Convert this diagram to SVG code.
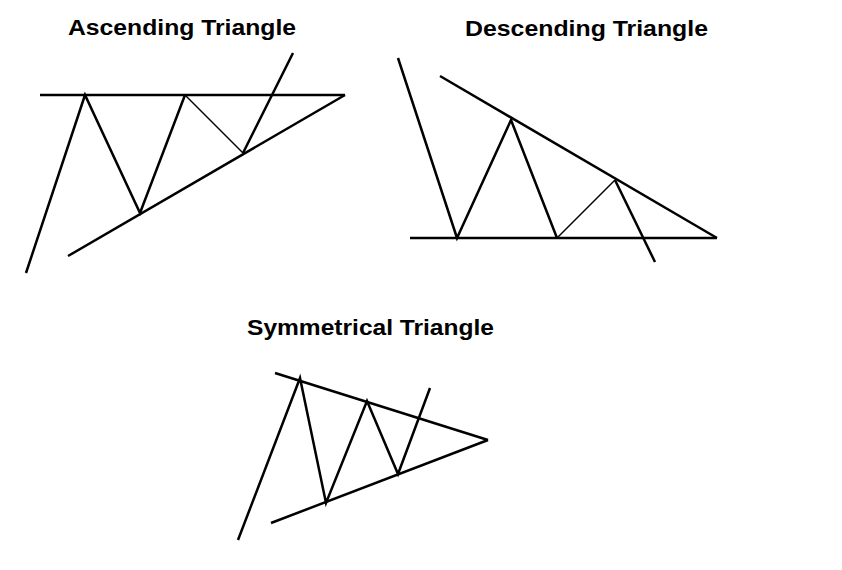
<svg xmlns="http://www.w3.org/2000/svg" width="842" height="570" viewBox="0 0 842 570">
<style>
.t{font-family:"Liberation Sans",Arial,sans-serif;font-size:22px;font-weight:bold;fill:#000}
.l{fill:none;stroke:#000;stroke-width:2.5;stroke-linejoin:miter}
.th{fill:none;stroke:#000;stroke-width:1.5}
</style>
<rect width="842" height="570" fill="#fff"/>
<g id="ascending">
<text class="t" x="68" y="35" textLength="228" lengthAdjust="spacingAndGlyphs">Ascending Triangle</text>
<line class="l" x1="40" y1="95" x2="345" y2="95"/>
<line class="l" x1="68" y1="256" x2="345" y2="95"/>
<polyline class="l" points="26,273 85,95 140,213 185,95"/>
<line class="th" x1="185" y1="95" x2="243" y2="153"/>
<line class="l" x1="243" y1="153" x2="293" y2="53"/>
</g>
<g id="descending">
<text class="t" x="465" y="36" textLength="243" lengthAdjust="spacingAndGlyphs">Descending Triangle</text>
<line class="l" x1="440" y1="76" x2="717" y2="238"/>
<line class="l" x1="410" y1="238" x2="717" y2="238"/>
<polyline class="l" points="398,58 457,238 511,120 557,238"/>
<line class="th" x1="557" y1="238" x2="615" y2="180"/>
<line class="l" x1="615" y1="180" x2="655" y2="262"/>
</g>
<g id="symmetrical">
<text class="t" x="247" y="335" textLength="247" lengthAdjust="spacingAndGlyphs">Symmetrical Triangle</text>
<line class="l" x1="275" y1="373" x2="488" y2="440"/>
<line class="l" x1="271" y1="523" x2="488" y2="440"/>
<polyline class="l" points="238,540 300,378 326,503 367,401 398,474 430,388"/>
</g>
</svg>
